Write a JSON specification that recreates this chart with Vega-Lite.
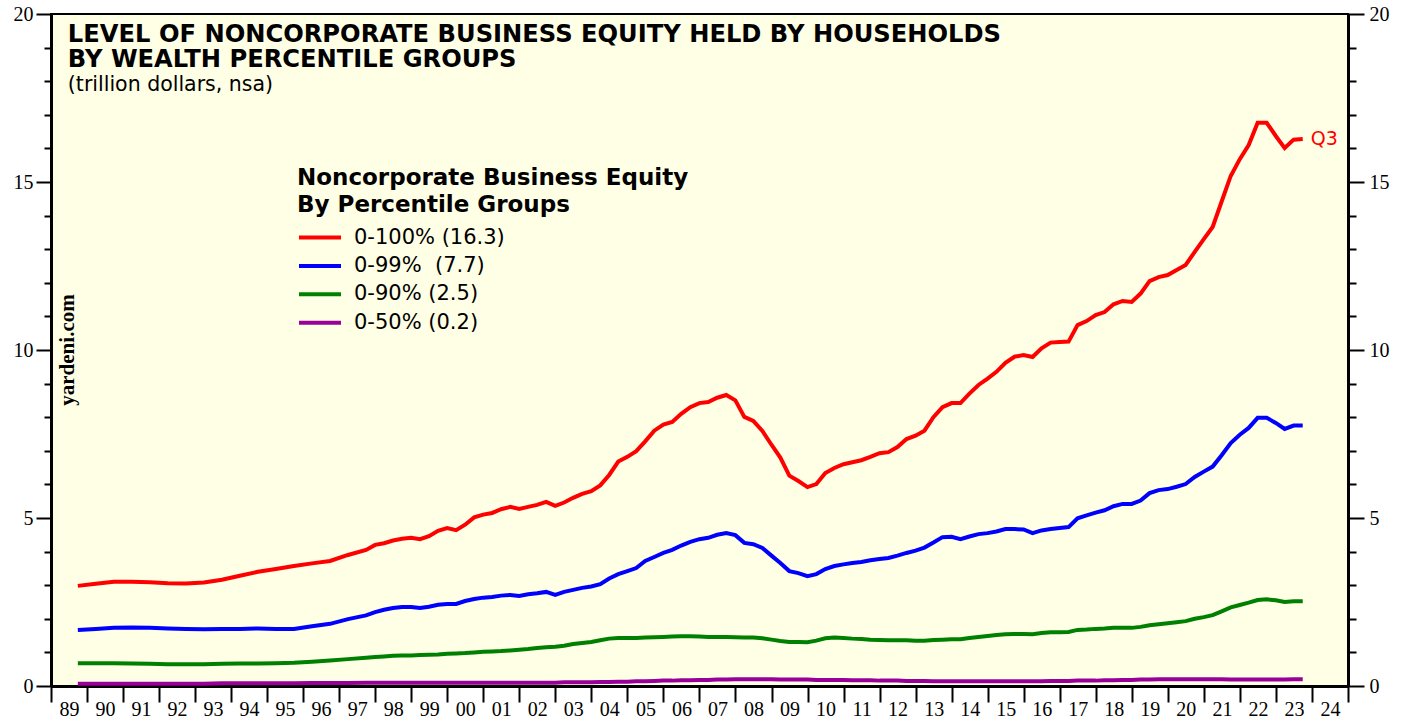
{
  "$schema": "https://vega.github.io/schema/vega-lite/v6.json",
  "width": 1297,
  "height": 672,
  "autosize": {"type": "none"},
  "padding": {"left": 51, "top": 14, "right": 59, "bottom": 33},
  "background": "white",
  "config": {
    "view": {"fill": "#FFFFE6", "stroke": "black", "strokeWidth": 2}
  },
  "datasets": {
    "main": [
      {"d":"1989-09-30","a":2.98,"b":1.67,"g":0.68,"p":0.07},
      {"d":"1990-03-31","a":3.04,"b":1.70,"g":0.68,"p":0.07},
      {"d":"1990-09-30","a":3.10,"b":1.73,"g":0.68,"p":0.07},
      {"d":"1991-03-31","a":3.10,"b":1.74,"g":0.67,"p":0.07},
      {"d":"1991-09-30","a":3.09,"b":1.73,"g":0.66,"p":0.07},
      {"d":"1992-03-31","a":3.06,"b":1.71,"g":0.65,"p":0.07},
      {"d":"1992-09-30","a":3.05,"b":1.70,"g":0.65,"p":0.07},
      {"d":"1993-03-31","a":3.08,"b":1.69,"g":0.65,"p":0.07},
      {"d":"1993-09-30","a":3.16,"b":1.70,"g":0.66,"p":0.08},
      {"d":"1994-03-31","a":3.28,"b":1.70,"g":0.67,"p":0.08},
      {"d":"1994-09-30","a":3.40,"b":1.71,"g":0.67,"p":0.08},
      {"d":"1995-03-31","a":3.48,"b":1.70,"g":0.68,"p":0.08},
      {"d":"1995-09-30","a":3.57,"b":1.70,"g":0.69,"p":0.08},
      {"d":"1996-03-31","a":3.65,"b":1.78,"g":0.72,"p":0.09},
      {"d":"1996-09-30","a":3.72,"b":1.85,"g":0.76,"p":0.09},
      {"d":"1997-03-31","a":3.90,"b":1.99,"g":0.80,"p":0.09},
      {"d":"1997-09-30","a":4.05,"b":2.10,"g":0.84,"p":0.10},
      {"d":"1997-12-31","a":4.20,"b":2.20,"g":0.86,"p":0.10},
      {"d":"1998-03-31","a":4.25,"b":2.27,"g":0.88,"p":0.10},
      {"d":"1998-06-30","a":4.33,"b":2.32,"g":0.90,"p":0.10},
      {"d":"1998-09-30","a":4.38,"b":2.35,"g":0.91,"p":0.10},
      {"d":"1998-12-31","a":4.41,"b":2.35,"g":0.91,"p":0.10},
      {"d":"1999-03-31","a":4.37,"b":2.32,"g":0.92,"p":0.10},
      {"d":"1999-06-30","a":4.46,"b":2.36,"g":0.93,"p":0.10},
      {"d":"1999-09-30","a":4.62,"b":2.42,"g":0.94,"p":0.10},
      {"d":"1999-12-31","a":4.70,"b":2.44,"g":0.96,"p":0.10},
      {"d":"2000-03-31","a":4.64,"b":2.44,"g":0.97,"p":0.10},
      {"d":"2000-06-30","a":4.80,"b":2.53,"g":0.98,"p":0.10},
      {"d":"2000-09-30","a":5.02,"b":2.59,"g":1.00,"p":0.10},
      {"d":"2000-12-31","a":5.10,"b":2.63,"g":1.02,"p":0.10},
      {"d":"2001-03-31","a":5.15,"b":2.65,"g":1.03,"p":0.10},
      {"d":"2001-06-30","a":5.26,"b":2.69,"g":1.04,"p":0.10},
      {"d":"2001-09-30","a":5.33,"b":2.71,"g":1.06,"p":0.10},
      {"d":"2001-12-31","a":5.27,"b":2.68,"g":1.08,"p":0.10},
      {"d":"2002-03-31","a":5.33,"b":2.73,"g":1.10,"p":0.10},
      {"d":"2002-06-30","a":5.39,"b":2.76,"g":1.13,"p":0.10},
      {"d":"2002-09-30","a":5.48,"b":2.80,"g":1.15,"p":0.10},
      {"d":"2002-12-31","a":5.36,"b":2.71,"g":1.17,"p":0.10},
      {"d":"2003-03-31","a":5.46,"b":2.80,"g":1.20,"p":0.11},
      {"d":"2003-06-30","a":5.60,"b":2.86,"g":1.25,"p":0.11},
      {"d":"2003-09-30","a":5.72,"b":2.92,"g":1.28,"p":0.11},
      {"d":"2003-12-31","a":5.80,"b":2.96,"g":1.31,"p":0.11},
      {"d":"2004-03-31","a":5.97,"b":3.03,"g":1.36,"p":0.12},
      {"d":"2004-06-30","a":6.28,"b":3.20,"g":1.41,"p":0.12},
      {"d":"2004-09-30","a":6.68,"b":3.33,"g":1.43,"p":0.13},
      {"d":"2004-12-31","a":6.82,"b":3.42,"g":1.43,"p":0.13},
      {"d":"2005-03-31","a":6.99,"b":3.51,"g":1.43,"p":0.14},
      {"d":"2005-06-30","a":7.28,"b":3.72,"g":1.44,"p":0.14},
      {"d":"2005-09-30","a":7.60,"b":3.84,"g":1.45,"p":0.15},
      {"d":"2005-12-31","a":7.78,"b":3.96,"g":1.46,"p":0.16},
      {"d":"2006-03-31","a":7.86,"b":4.05,"g":1.47,"p":0.16},
      {"d":"2006-06-30","a":8.10,"b":4.18,"g":1.48,"p":0.17},
      {"d":"2006-09-30","a":8.30,"b":4.29,"g":1.48,"p":0.17},
      {"d":"2006-12-31","a":8.42,"b":4.37,"g":1.47,"p":0.18},
      {"d":"2007-03-31","a":8.45,"b":4.41,"g":1.46,"p":0.18},
      {"d":"2007-06-30","a":8.58,"b":4.50,"g":1.46,"p":0.19},
      {"d":"2007-09-30","a":8.66,"b":4.55,"g":1.46,"p":0.19},
      {"d":"2007-12-31","a":8.50,"b":4.49,"g":1.45,"p":0.20},
      {"d":"2008-03-31","a":8.01,"b":4.26,"g":1.44,"p":0.20},
      {"d":"2008-06-30","a":7.89,"b":4.22,"g":1.44,"p":0.20},
      {"d":"2008-09-30","a":7.59,"b":4.11,"g":1.42,"p":0.20},
      {"d":"2008-12-31","a":7.18,"b":3.88,"g":1.38,"p":0.20},
      {"d":"2009-03-31","a":6.80,"b":3.66,"g":1.34,"p":0.19},
      {"d":"2009-06-30","a":6.26,"b":3.42,"g":1.31,"p":0.19},
      {"d":"2009-09-30","a":6.10,"b":3.36,"g":1.31,"p":0.19},
      {"d":"2009-12-31","a":5.92,"b":3.27,"g":1.30,"p":0.19},
      {"d":"2010-03-31","a":6.01,"b":3.33,"g":1.35,"p":0.18},
      {"d":"2010-06-30","a":6.34,"b":3.48,"g":1.42,"p":0.18},
      {"d":"2010-09-30","a":6.49,"b":3.57,"g":1.44,"p":0.18},
      {"d":"2010-12-31","a":6.60,"b":3.62,"g":1.43,"p":0.18},
      {"d":"2011-03-31","a":6.66,"b":3.66,"g":1.41,"p":0.17},
      {"d":"2011-06-30","a":6.72,"b":3.69,"g":1.40,"p":0.17},
      {"d":"2011-09-30","a":6.82,"b":3.74,"g":1.38,"p":0.17},
      {"d":"2011-12-31","a":6.93,"b":3.78,"g":1.37,"p":0.16},
      {"d":"2012-03-31","a":6.96,"b":3.81,"g":1.36,"p":0.16},
      {"d":"2012-06-30","a":7.11,"b":3.88,"g":1.36,"p":0.16},
      {"d":"2012-09-30","a":7.35,"b":3.96,"g":1.36,"p":0.15},
      {"d":"2012-12-31","a":7.45,"b":4.03,"g":1.35,"p":0.15},
      {"d":"2013-03-31","a":7.60,"b":4.12,"g":1.35,"p":0.15},
      {"d":"2013-06-30","a":8.00,"b":4.27,"g":1.37,"p":0.14},
      {"d":"2013-09-30","a":8.30,"b":4.43,"g":1.38,"p":0.14},
      {"d":"2013-12-31","a":8.42,"b":4.44,"g":1.39,"p":0.14},
      {"d":"2014-03-31","a":8.42,"b":4.37,"g":1.39,"p":0.14},
      {"d":"2014-06-30","a":8.70,"b":4.45,"g":1.43,"p":0.14},
      {"d":"2014-09-30","a":8.96,"b":4.52,"g":1.46,"p":0.14},
      {"d":"2014-12-31","a":9.15,"b":4.55,"g":1.49,"p":0.14},
      {"d":"2015-03-31","a":9.35,"b":4.60,"g":1.52,"p":0.14},
      {"d":"2015-06-30","a":9.62,"b":4.67,"g":1.54,"p":0.14},
      {"d":"2015-09-30","a":9.80,"b":4.67,"g":1.55,"p":0.14},
      {"d":"2015-12-31","a":9.85,"b":4.66,"g":1.55,"p":0.14},
      {"d":"2016-03-31","a":9.79,"b":4.55,"g":1.54,"p":0.14},
      {"d":"2016-06-30","a":10.05,"b":4.63,"g":1.58,"p":0.14},
      {"d":"2016-09-30","a":10.22,"b":4.67,"g":1.60,"p":0.15},
      {"d":"2016-12-31","a":10.24,"b":4.70,"g":1.60,"p":0.15},
      {"d":"2017-03-31","a":10.25,"b":4.73,"g":1.61,"p":0.15},
      {"d":"2017-06-30","a":10.74,"b":4.99,"g":1.67,"p":0.16},
      {"d":"2017-09-30","a":10.86,"b":5.08,"g":1.68,"p":0.16},
      {"d":"2017-12-31","a":11.04,"b":5.16,"g":1.70,"p":0.16},
      {"d":"2018-03-31","a":11.13,"b":5.23,"g":1.71,"p":0.17},
      {"d":"2018-06-30","a":11.36,"b":5.35,"g":1.73,"p":0.17},
      {"d":"2018-09-30","a":11.46,"b":5.42,"g":1.73,"p":0.18},
      {"d":"2018-12-31","a":11.43,"b":5.42,"g":1.73,"p":0.18},
      {"d":"2019-03-31","a":11.68,"b":5.52,"g":1.76,"p":0.19},
      {"d":"2019-06-30","a":12.05,"b":5.74,"g":1.81,"p":0.19},
      {"d":"2019-09-30","a":12.17,"b":5.83,"g":1.84,"p":0.20},
      {"d":"2019-12-31","a":12.23,"b":5.86,"g":1.87,"p":0.20},
      {"d":"2020-03-31","a":12.38,"b":5.93,"g":1.90,"p":0.20},
      {"d":"2020-06-30","a":12.53,"b":6.01,"g":1.93,"p":0.20},
      {"d":"2020-09-30","a":12.92,"b":6.22,"g":2.00,"p":0.20},
      {"d":"2020-12-31","a":13.30,"b":6.38,"g":2.05,"p":0.20},
      {"d":"2021-03-31","a":13.66,"b":6.53,"g":2.11,"p":0.20},
      {"d":"2021-06-30","a":14.42,"b":6.87,"g":2.22,"p":0.20},
      {"d":"2021-09-30","a":15.18,"b":7.23,"g":2.34,"p":0.19},
      {"d":"2021-12-31","a":15.68,"b":7.48,"g":2.41,"p":0.19},
      {"d":"2022-03-31","a":16.10,"b":7.68,"g":2.48,"p":0.19},
      {"d":"2022-06-30","a":16.76,"b":7.98,"g":2.56,"p":0.19},
      {"d":"2022-09-30","a":16.76,"b":7.98,"g":2.58,"p":0.19},
      {"d":"2022-12-31","a":16.37,"b":7.83,"g":2.55,"p":0.19},
      {"d":"2023-03-31","a":16.01,"b":7.65,"g":2.50,"p":0.19},
      {"d":"2023-06-30","a":16.26,"b":7.75,"g":2.52,"p":0.20},
      {"d":"2023-09-30","a":16.28,"b":7.75,"g":2.52,"p":0.20}
    ]
  },
  "layer": [
    {
      "data": {"name": "main"},
      "transform": [{"fold": ["a", "b", "g", "p"], "as": ["series", "value"]}],
      "mark": {"type": "line", "strokeWidth": 4, "interpolate": "linear"},
      "encoding": {
        "x": {
          "field": "d", "type": "temporal",
          "scale": {"domain": [{"year": 1989, "month": 1, "date": 1}, {"year": 2025, "month": 1, "date": 1}], "nice": false},
          "axis": {
            "orient": "bottom", "title": null, "grid": false,
            "tickCount": {"interval": "year", "step": 1},
            "labelExpr": "year(datum.value) > 2024 ? '' : timeFormat(datum.value, '%y')",
            "labelOffset": 18, "labelAlign": "center",
            "labelFont": "Liberation Serif", "labelFontSize": 20, "labelColor": "black",
            "labelPadding": -3, "labelOverlap": false, "labelFlush": false, "labelBound": false,
            "tickSize": 16, "tickWidth": 2, "tickColor": "black",
            "domainColor": "black", "domainWidth": 3
          }
        },
        "y": {
          "field": "value", "type": "quantitative",
          "scale": {"domain": [0, 20], "nice": false, "zero": true},
          "axis": {
            "orient": "left", "title": null, "grid": false,
            "values": [0,1,2,3,4,5,6,7,8,9,10,11,12,13,14,15,16,17,18,19,20],
            "labelExpr": "datum.value % 5 === 0 ? datum.label : ''",
            "labelFont": "Liberation Serif", "labelFontSize": 20, "labelColor": "black",
            "labelPadding": 3, "labelOverlap": false, "labelBound": false, "labelFlush": false,
            "tickSize": {"condition": {"test": "datum.value % 5 === 0", "value": 15}, "value": 7},
            "tickWidth": 2, "tickColor": "black",
            "domainColor": "black", "domainWidth": 3
          }
        },
        "color": {
          "field": "series", "type": "nominal",
          "scale": {"domain": ["a", "b", "g", "p"], "range": ["#ff0000", "#0000ff", "#008000", "#990099"]},
          "legend": {
            "orient": "none", "legendX": 246, "legendY": 153,
            "title": ["Noncorporate Business Equity", "By Percentile Groups"],
            "titleFont": "DejaVu Sans", "titleFontSize": 23, "titleFontWeight": "bold",
            "titleLineHeight": 27, "titleColor": "black", "titlePadding": 8, "titleLimit": 0,
            "labelExpr": "datum.value == 'a' ? '0-100% (16.3)' : datum.value == 'b' ? '0-99%\u00a0 (7.7)' : datum.value == 'g' ? '0-90% (2.5)' : '0-50% (0.2)'",
            "labelFont": "DejaVu Sans", "labelFontSize": 21, "labelColor": "black", "labelLimit": 0,
            "labelOffset": 32,
            "symbolType": "M-1,0L3,0", "symbolSize": 441, "symbolStrokeWidth": 4,
            "rowPadding": 5.4
          }
        }
      }
    },
    {
      "data": {"values": [{}]},
      "mark": {"type": "text", "text": ["LEVEL OF NONCORPORATE BUSINESS EQUITY HELD BY HOUSEHOLDS", "BY WEALTH PERCENTILE GROUPS"], "font": "DejaVu Sans", "fontSize": 24.2, "fontWeight": "bold", "lineHeight": 25.5, "align": "left", "baseline": "alphabetic", "color": "black"},
      "encoding": {
        "x": {"datum": {"year": 1989, "month": 6, "date": 21}, "type": "temporal", "axis": null},
        "y": {"datum": 19.17, "type": "quantitative", "axis": null}
      }
    },
    {
      "data": {"values": [{}]},
      "mark": {"type": "text", "text": "(trillion dollars, nsa)", "font": "DejaVu Sans", "fontSize": 20.5, "align": "left", "baseline": "alphabetic", "color": "black"},
      "encoding": {
        "x": {"datum": {"year": 1989, "month": 6, "date": 21}, "type": "temporal", "axis": null},
        "y": {"datum": 17.72, "type": "quantitative", "axis": null}
      }
    },
    {
      "data": {"values": [{}]},
      "mark": {"type": "text", "text": "yardeni.com", "font": "Liberation Serif", "fontSize": 21, "fontWeight": "bold", "angle": 270, "align": "center", "baseline": "middle", "color": "black"},
      "encoding": {
        "x": {"datum": {"year": 1989, "month": 6, "date": 21}, "type": "temporal", "axis": null},
        "y": {"datum": 10.0, "type": "quantitative", "axis": null}
      }
    },
    {
      "data": {"name": "main"},
      "transform": [{"filter": {"field": "d", "timeUnit": "yearmonth", "equal": {"year": 2023, "month": 9}}}],
      "mark": {"type": "text", "text": "Q3", "font": "DejaVu Sans", "fontSize": 19, "align": "left", "baseline": "middle", "dx": 8, "color": "#ff0000"},
      "encoding": {
        "x": {"field": "d", "type": "temporal", "axis": null},
        "y": {
          "field": "a", "type": "quantitative",
          "axis": {
            "orient": "right", "title": null, "grid": false,
            "values": [0,1,2,3,4,5,6,7,8,9,10,11,12,13,14,15,16,17,18,19,20],
            "labelExpr": "datum.value % 5 === 0 ? datum.label : ''",
            "labelFont": "Liberation Serif", "labelFontSize": 20, "labelColor": "black",
            "labelPadding": 5, "labelOverlap": false, "labelBound": false, "labelFlush": false,
            "tickSize": {"condition": {"test": "datum.value % 5 === 0", "value": 16}, "value": 8},
            "tickWidth": 2, "tickColor": "black",
            "domainColor": "black", "domainWidth": 3
          }
        }
      }
    }
  ],
  "resolve": {"axis": {"x": "independent", "y": "independent"}}
}
